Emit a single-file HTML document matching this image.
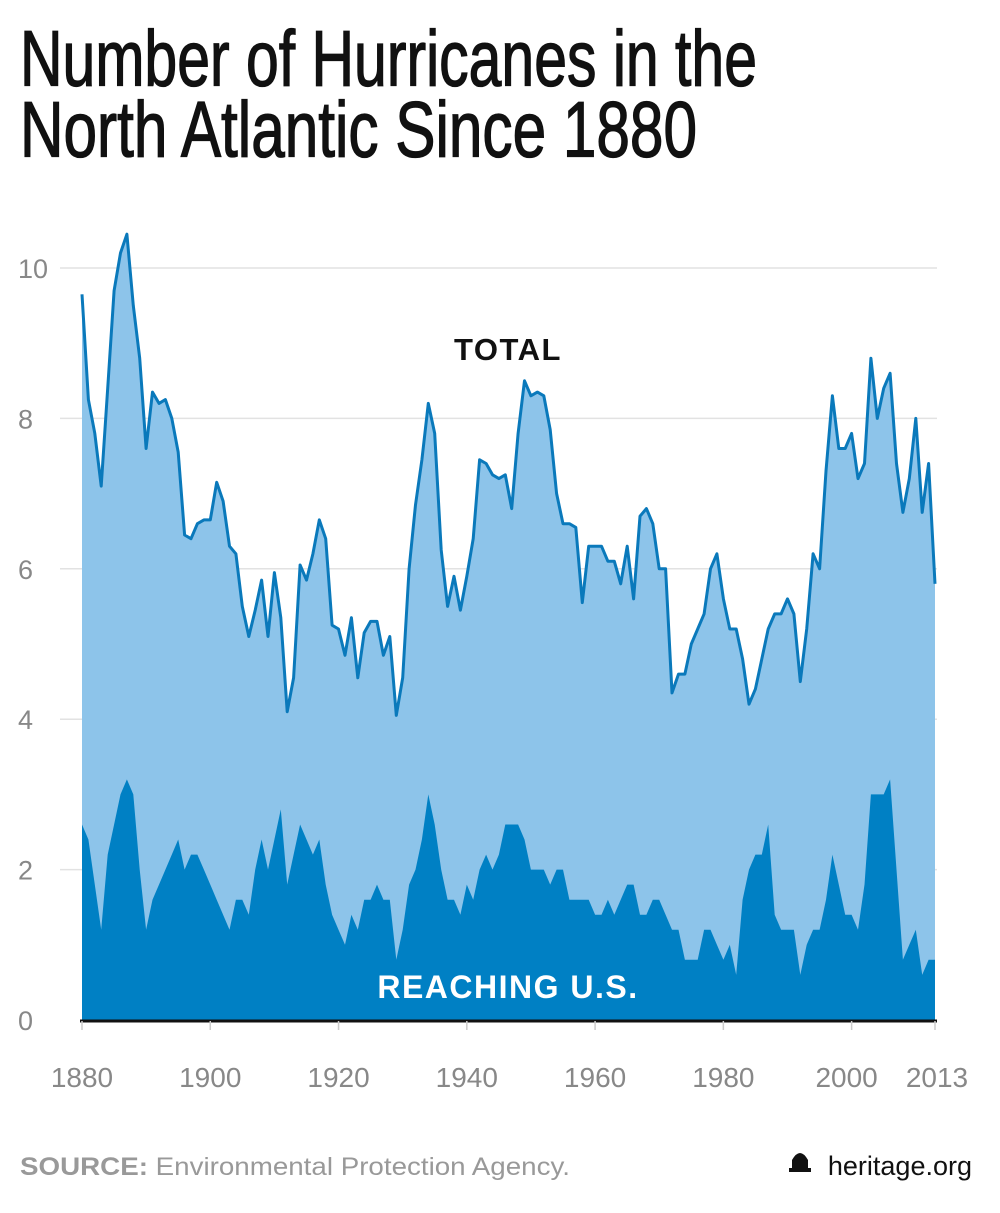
<!DOCTYPE html>
<html><head><meta charset="utf-8"><style>
body{margin:0;background:#fff;width:1000px;height:1208px;overflow:hidden;font-family:"Liberation Sans",sans-serif}
</style></head><body>
<svg id="s" width="1000" height="1208" xmlns="http://www.w3.org/2000/svg">
<text x="20" y="84" font-family="Liberation Sans Narrow, Liberation Sans, sans-serif" font-size="72" fill="#111" stroke="#111" stroke-width="1.2" textLength="737" lengthAdjust="spacingAndGlyphs" transform="translate(0,-7) scale(1,1.1)">Number of Hurricanes in the</text>
<text x="20" y="153" font-family="Liberation Sans Narrow, Liberation Sans, sans-serif" font-size="72" fill="#111" stroke="#111" stroke-width="1.2" textLength="677" lengthAdjust="spacingAndGlyphs" transform="translate(0,-12) scale(1,1.1)">North Atlantic Since 1880</text>
<g id="grid" stroke="#e2e2e2" stroke-width="1.5"></g>
<g id="yl" font-size="27" fill="#888" font-family="Liberation Sans, sans-serif"></g>
<path id="tot" fill="#8dc4ea"/>
<path id="us" fill="#0080c4"/>
<path id="tl" fill="none" stroke="#0a79bb" stroke-width="3" stroke-linejoin="round"/>
<line x1="80" y1="1021" x2="937" y2="1021" stroke="#111" stroke-width="3"/>
<text x="508" y="360" text-anchor="middle" font-size="31" font-weight="bold" fill="#111" letter-spacing="1.5">TOTAL</text>
<text x="508" y="998" text-anchor="middle" font-size="32" font-weight="bold" fill="#fff" letter-spacing="1.5">REACHING U.S.</text>
<g id="xl" font-size="28" fill="#888" text-anchor="middle"></g>
<text x="20" y="1175" font-size="25" fill="#999" textLength="550" lengthAdjust="spacingAndGlyphs"><tspan font-weight="bold">SOURCE:</tspan> Environmental Protection Agency.</text>
<text x="972" y="1175" font-size="27" fill="#111" text-anchor="end">heritage.org</text>
<path d="M792 1160 q8 -14 16 0 v8 h3 v4 h-22 v-4 h3z" fill="#111"/>
</svg>
<script>
var T=[9.65,8.25,7.8,7.1,8.4,9.7,10.2,10.45,9.5,8.8,7.6,8.35,8.2,8.25,8.0,7.55,6.45,6.4,6.6,6.65,6.65,7.15,6.9,6.3,6.2,5.5,5.1,5.45,5.85,5.1,5.95,5.35,4.1,4.55,6.05,5.85,6.2,6.65,6.4,5.25,5.2,4.85,5.35,4.55,5.15,5.3,5.3,4.85,5.1,4.05,4.55,6.0,6.85,7.45,8.2,7.8,6.25,5.5,5.9,5.45,5.9,6.4,7.45,7.4,7.25,7.2,7.25,6.8,7.8,8.5,8.3,8.35,8.3,7.85,7.0,6.6,6.6,6.55,5.55,6.3,6.3,6.3,6.1,6.1,5.8,6.3,5.6,6.7,6.8,6.6,6.0,6.0,4.35,4.6,4.6,5.0,5.2,5.4,6.0,6.2,5.6,5.2,5.2,4.8,4.2,4.4,4.8,5.2,5.4,5.4,5.6,5.4,4.5,5.2,6.2,6.0,7.3,8.3,7.6,7.6,7.8,7.2,7.4,8.8,8.0,8.4,8.6,7.4,6.75,7.2,8.0,6.75,7.4,5.8];
var U=[2.6,2.4,1.8,1.2,2.2,2.6,3.0,3.2,3.0,2.0,1.2,1.6,1.8,2.0,2.2,2.4,2.0,2.2,2.2,2.0,1.8,1.6,1.4,1.2,1.6,1.6,1.4,2.0,2.4,2.0,2.4,2.8,1.8,2.2,2.6,2.4,2.2,2.4,1.8,1.4,1.2,1.0,1.4,1.2,1.6,1.6,1.8,1.6,1.6,0.8,1.2,1.8,2.0,2.4,3.0,2.6,2.0,1.6,1.6,1.4,1.8,1.6,2.0,2.2,2.0,2.2,2.6,2.6,2.6,2.4,2.0,2.0,2.0,1.8,2.0,2.0,1.6,1.6,1.6,1.6,1.4,1.4,1.6,1.4,1.6,1.8,1.8,1.4,1.4,1.6,1.6,1.4,1.2,1.2,0.8,0.8,0.8,1.2,1.2,1.0,0.8,1.0,0.6,1.6,2.0,2.2,2.2,2.6,1.4,1.2,1.2,1.2,0.6,1.0,1.2,1.2,1.6,2.2,1.8,1.4,1.4,1.2,1.8,3.0,3.0,3.0,3.2,2.0,0.8,1.0,1.2,0.6,0.8,0.8];
function X(i){return 82+i*853/133}function Y(v){return 1020-v*75.2}
function line(a){return a.map((v,i)=>(i?'L':'M')+X(i).toFixed(1)+' '+Y(v).toFixed(1)).join('')}
var t=line(T);document.getElementById('tl').setAttribute('d',t);
document.getElementById('tot').setAttribute('d',t+'L'+X(133)+' 1020L82 1020Z');
document.getElementById('us').setAttribute('d',line(U)+'L'+X(133)+' 1020L82 1020Z');
var g='',yl='';for(var v=2;v<=10;v+=2){g+='<line x1="60" x2="937" y1="'+Y(v)+'" y2="'+Y(v)+'"/>';}
for(var v=0;v<=10;v+=2){yl+='<text x="18" y="'+(Y(v)+10)+'">'+v+'</text>';}
document.getElementById('grid').innerHTML=g;document.getElementById('yl').innerHTML=yl;
var xl='';[1880,1900,1920,1940,1960,1980,2000,2013].forEach(y=>{var x=X(y-1880);xl+='<line x1="'+x+'" x2="'+x+'" y1="1021" y2="1030" stroke="#ccc" stroke-width="1.5"/><text x="'+(y==2000?x-5:(y==2013?x+2:x))+'" y="1087">'+y+'</text>';});
document.getElementById('xl').innerHTML=xl;
</script>
</body></html>
